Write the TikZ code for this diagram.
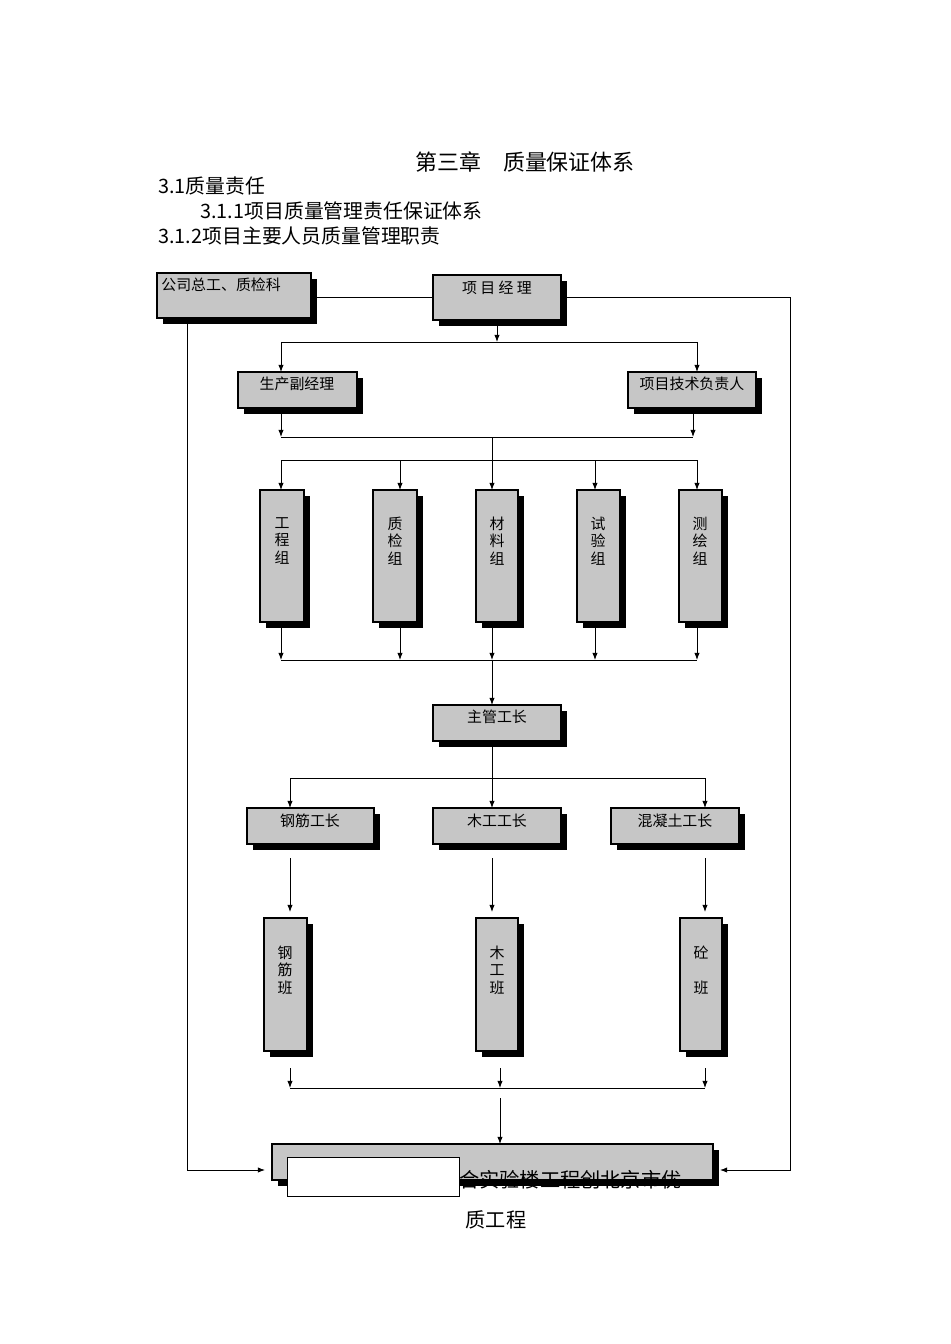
\documentclass[tikz,border=0pt]{standalone}
\usepackage{fontspec}
\setmainfont{Noto Sans CJK SC}
\usetikzlibrary{arrows.meta}
\begin{document}
\begin{tikzpicture}[x=0.02cm,y=-0.02cm,
  bx/.style={draw=black,fill=gray!45,line width=0.6pt},
  sh/.style={fill=black},
  lbl/.style={font=\fontsize{8.5}{10}\selectfont,inner sep=0pt},
  ln/.style={line width=0.5pt},
  ar/.style={line width=0.5pt,-{Latex[length=4pt,width=3pt]}},
  hd/.style={font=\fontsize{11.3}{13}\selectfont,inner sep=0pt,anchor=west}]
\useasboundingbox (0,0) rectangle (950,1344);
\newcommand{\gbox}[5]{%
  \fill[sh] (#1+6,#2+6) rectangle (#3+6,#4+6);
  \draw[bx] (#1,#2) rectangle (#3,#4);
  \coordinate (#5) at ({(#1+#3)/2},{(#2+#4)/2});}
% headings
\node[font=\fontsize{12.5}{14}\selectfont,inner sep=0pt] (t0) at (525,162) {第三章\quad 质量保证体系};
\node[hd] (t1) at (158,186) {3.1质量责任};
\node[hd] (t2) at (200,211) {3.1.1项目质量管理责任保证体系};
\node[hd] (t3) at (158,236) {3.1.2项目主要人员质量管理职责};
% boxes
\gbox{157}{273}{311}{318}{gs}
\node[lbl,anchor=north west] (gst) at (161,278) {公司总工、质检科};
\gbox{433}{275}{561}{320}{pm}
\node[lbl] (pmt) at (497,288) {项\ 目\ 经\ 理};
\gbox{238}{372}{357}{408}{sc}
\node[lbl] (sct) at (297,384) {生产副经理};
\gbox{628}{372}{756}{408}{js}
\node[lbl] (jst) at (692,384) {项目技术负责人};
\gbox{260}{490}{304}{622}{g1}
\gbox{373}{490}{417}{622}{g2}
\gbox{476}{490}{518}{622}{g3}
\gbox{577}{490}{620}{622}{g4}
\gbox{679}{490}{722}{622}{g5}
\node[lbl,align=center] (g1t) at (282,541) {工\\程\\组};
\node[lbl,align=center] (g2t) at (395,541) {质\\检\\组};
\node[lbl,align=center] (g3t) at (497,541) {材\\料\\组};
\node[lbl,align=center] (g4t) at (598,541) {试\\验\\组};
\node[lbl,align=center] (g5t) at (700,541) {测\\绘\\组};
\gbox{433}{705}{561}{741}{zg}
\node[lbl] (zgt) at (497,717) {主管工长};
\gbox{247}{808}{374}{844}{w1}
\gbox{433}{808}{561}{844}{w2}
\gbox{611}{808}{739}{844}{w3}
\node[lbl] (w1t) at (310,821) {钢筋工长};
\node[lbl] (w2t) at (497,821) {木工工长};
\node[lbl] (w3t) at (675,821) {混凝土工长};
\gbox{264}{918}{307}{1051}{b1}
\gbox{476}{918}{518}{1051}{b2}
\gbox{680}{918}{722}{1051}{b3}
\node[lbl,align=center] (b1t) at (285,970) {钢\\筋\\班};
\node[lbl,align=center] (b2t) at (497,970) {木\\工\\班};
\node[lbl,align=center] (b3t) at (701,970) {砼\\ \\班};
\gbox{272}{1144}{713}{1180}{fb}
\draw[fill=white,line width=0.5pt] (287,1157) rectangle (459,1196);
\node[font=\fontsize{11.5}{13}\selectfont,inner sep=0pt,anchor=west] (fbt) at (459,1180) {合实验楼工程创北京市优};
\node[font=\fontsize{11.5}{13}\selectfont,inner sep=0pt] (fbt2) at (496,1220) {质工程};
% connectors
\draw[ln] (311,297) -- (433,297);
\coordinate (rR) at (790,1170);
\draw[ar] (561,297) -- (790,297) -- (rR) -- (720,1170);
\draw[ar] (187,318) -- (187,1170) -- (265,1170);
\draw[ar] (497,320) -- (497,342);
\draw[ln] (281,342) -- (697,342);
\draw[ar] (281,342) -- (281,372);
\draw[ar] (697,342) -- (697,372);
\draw[ar] (281,408) -- (281,437);
\draw[ar] (693,408) -- (693,437);
\draw[ln] (281,437) -- (693,437);
\draw[ln] (492,437) -- (492,460);
\draw[ln] (281,460) -- (697,460);
\foreach \x in {281,400,492,595,697} \draw[ar] (\x,460) -- (\x,490);
\foreach \x in {281,400,492,595,697} \draw[ar] (\x,628) -- (\x,660);
\draw[ln] (281,660) -- (697,660);
\draw[ar] (492,660) -- (492,705);
\draw[ln] (492,741) -- (492,778);
\draw[ln] (290,778) -- (705,778);
\foreach \x in {290,492,705} \draw[ar] (\x,778) -- (\x,808);
\foreach \x in {290,492,705} \draw[ar] (\x,858) -- (\x,912);
\foreach \x in {290,500,705} \draw[ar] (\x,1068) -- (\x,1088);
\draw[ln] (290,1088) -- (705,1088);
\draw[ar] (500,1098) -- (500,1144);
\end{tikzpicture}
\end{document}
